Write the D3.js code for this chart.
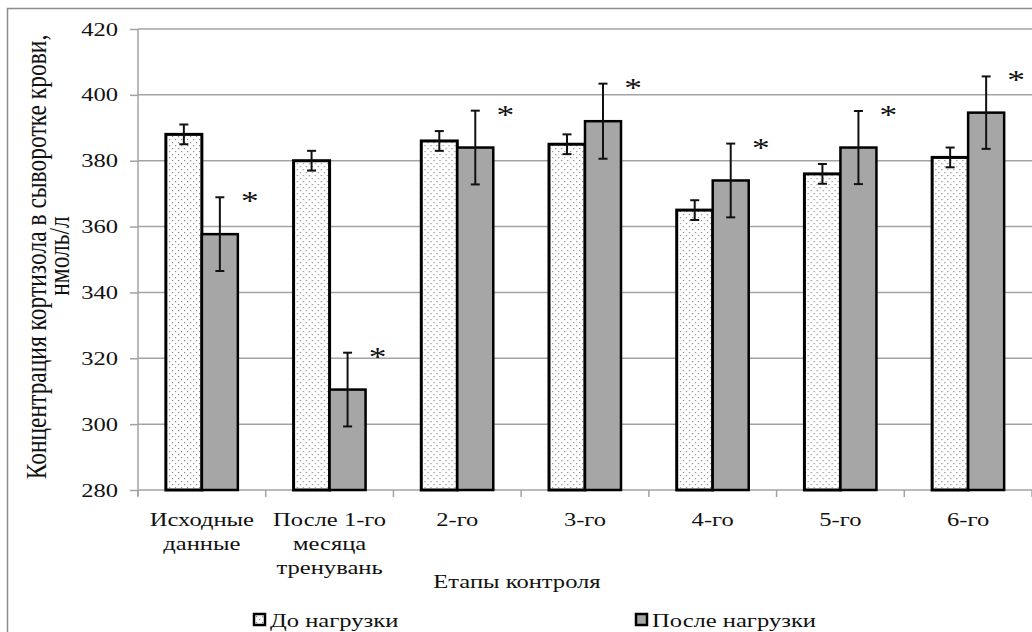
<!DOCTYPE html>
<html>
<head>
<meta charset="utf-8">
<script src="https://cdn.jsdelivr.net/npm/d3@7"></script>
<style>
body { margin: 0; background: #fff; }
svg { display: block; }
</style>
</head>
<body>
<svg id="drawing_region"></svg>
<script>
// stages of control (multi-line tick labels)
const categories = [
  ["Исходные", "данные"],
  ["После 1-го", "месяца", "тренувань"],
  ["2-го"], ["3-го"], ["4-го"], ["5-го"], ["6-го"]
];
const seriesNames = ["До нагрузки", "После нагрузки"];
const beforeLoad = [388, 380, 386, 385, 365, 376, 381];
const beforeErr = [3, 3, 3, 3, 3, 3, 3];
const afterLoad = [357.7, 310.5, 384, 392, 374, 384, 394.6];
const afterErr = [11.2, 11.2, 11.2, 11.4, 11.2, 11.1, 11];
const significant = ["*", "*", "*", "*", "*", "*", "*"];
const yTicks = [280, 300, 320, 340, 360, 380, 400, 420];
const yTitle = ["Концентрация кортизола в сыворотке крови,", "нмоль/л"];
const xTitle = "Етапы контроля";

const W = 1032, H = 632;
const margin = {top: 29, right: 0, bottom: 142, left: 138};
const FONT = "'Liberation Serif', 'Times New Roman', serif";
const SX = 1.26; // text in the picture is stretched horizontally

const svg = d3.select("#drawing_region")
  .attr("width", W)
  .attr("height", H);

const defs = svg.append("defs");
const pat = defs.append("pattern")
  .attr("id", "dots")
  .attr("patternUnits", "userSpaceOnUse")
  .attr("width", 6).attr("height", 6);
pat.append("rect").attr("width", 6).attr("height", 6).attr("fill", "#fff");
pat.append("rect").attr("x", 1).attr("y", 1).attr("width", 1.2).attr("height", 1.2).attr("fill", "#8a8a8a");
pat.append("rect").attr("x", 4).attr("y", 4).attr("width", 1.2).attr("height", 1.2).attr("fill", "#8a8a8a");

// outer chart frame
svg.append("rect")
  .attr("x", 7.5).attr("y", 8.5)
  .attr("width", 1060).attr("height", 660)
  .attr("fill", "none")
  .attr("stroke", "#8c8c8c")
  .attr("stroke-width", 1.5);

const plotBottom = H - margin.bottom;
const xscale = d3.scaleBand()
  .domain(d3.range(categories.length))
  .range([margin.left, W - margin.right])
  .padding(0);
const groupW = 72;
const xsub = d3.scaleBand()
  .domain([0, 1])
  .range([(xscale.bandwidth() - groupW) / 2, (xscale.bandwidth() + groupW) / 2]);
const yscale = d3.scaleLinear()
  .domain([280, 420])
  .range([plotBottom, margin.top]);

function stext(parent, x, y, str, size, anchor) {
  return parent.append("text")
    .attr("transform", `translate(${x},${y}) scale(${SX},1)`)
    .attr("text-anchor", anchor || "middle")
    .attr("font-family", FONT)
    .attr("font-size", size)
    .attr("fill", "#111")
    .text(str);
}

// grid lines
svg.append("g")
  .selectAll("line")
  .data(yTicks.slice(1))
  .join("line")
  .attr("x1", margin.left).attr("x2", W)
  .attr("y1", d => yscale(d)).attr("y2", d => yscale(d))
  .attr("stroke", "#a3a3a3")
  .attr("stroke-width", 1.5);

// y axis
const yaxis = d3.axisLeft(yscale).tickValues(yTicks).tickSize(8).tickFormat("");
const yg = svg.append("g")
  .attr("transform", `translate(${margin.left},0)`)
  .call(yaxis);
yg.selectAll("path, line").attr("stroke", "#a3a3a3").attr("stroke-width", 1.5);
yg.select(".domain").attr("d", `M0,${yscale(280) + 6}V${yscale(420)}`);
yTicks.forEach(t => stext(svg, 118, yscale(t) + 6.5, t, 19.5, "end"));

// x axis (drawn under the bars)
const xaxis = d3.axisBottom(xscale).tickSize(0).tickFormat("");
const xg = svg.append("g")
  .attr("transform", `translate(0,${plotBottom})`)
  .call(xaxis);
xg.select(".domain").attr("d", `M${margin.left},0H${W}`)
  .attr("stroke", "#a3a3a3").attr("stroke-width", 1.5);
xg.selectAll(".tick").remove();
xg.selectAll("line.sep")
  .data(d3.range(categories.length + 1))
  .join("line")
  .attr("class", "sep")
  .attr("x1", i => margin.left + i * xscale.step())
  .attr("x2", i => margin.left + i * xscale.step())
  .attr("y1", 0).attr("y2", 7)
  .attr("stroke", "#a3a3a3").attr("stroke-width", 1.5);

// bars
const data = categories.map((c, i) => ({
  i: i,
  vals: [
    {s: 0, v: beforeLoad[i], e: beforeErr[i]},
    {s: 1, v: afterLoad[i], e: afterErr[i]}
  ]
}));

const groups = svg.append("g")
  .selectAll("g")
  .data(data)
  .join("g")
  .attr("transform", d => `translate(${xscale(d.i)},0)`);

groups.selectAll("rect")
  .data(d => d.vals)
  .join("rect")
  .attr("x", d => xsub(d.s))
  .attr("y", d => yscale(d.v))
  .attr("width", xsub.bandwidth())
  .attr("height", d => yscale(280) - yscale(d.v))
  .attr("fill", d => d.s === 0 ? "url(#dots)" : "#a6a6a6")
  .attr("stroke", "#000")
  .attr("stroke-width", d => d.s === 0 ? 3 : 2.5);

// error bars
const eb = groups.selectAll("g.err")
  .data(d => d.vals)
  .join("g")
  .attr("class", "err")
  .attr("stroke", "#111")
  .attr("stroke-width", 2);
const cx = d => xsub(d.s) + xsub.bandwidth() / 2;
eb.append("line")
  .attr("x1", cx).attr("x2", cx)
  .attr("y1", d => yscale(d.v + d.e)).attr("y2", d => yscale(d.v - d.e));
eb.append("line")
  .attr("x1", d => cx(d) - 4.5).attr("x2", d => cx(d) + 4.5)
  .attr("y1", d => yscale(d.v + d.e)).attr("y2", d => yscale(d.v + d.e));
eb.append("line")
  .attr("x1", d => cx(d) - 4.5).attr("x2", d => cx(d) + 4.5)
  .attr("y1", d => yscale(d.v - d.e)).attr("y2", d => yscale(d.v - d.e));

// significance marks
significant.forEach((m, i) => {
  const x = xscale(i) + xsub(1) + xsub.bandwidth() + 12;
  const y = yscale(afterLoad[i] + afterErr[i]);
  stext(svg, x, y + 13, m, 28);
});

categories.forEach((lines, i) => {
  lines.forEach((t, j) => {
    stext(svg, xscale(i) + xscale.bandwidth() / 2, 526 + j * 24, t, 19.5);
  });
});

// axis titles
stext(svg, 517, 588, xTitle, 19.5);
yTitle.forEach((t, j) => {
  svg.append("text")
    .attr("transform", `translate(${j === 0 ? 46 : 69},${j === 0 ? 257 : 256}) scale(${SX},1) rotate(-90)`)
    .attr("text-anchor", "middle")
    .attr("font-family", FONT)
    .attr("font-size", 23.5)
    .attr("fill", "#111")
    .text(t);
});

// legend
const legendX = [254, 636];
seriesNames.forEach((n, k) => {
  svg.append("rect")
    .attr("x", legendX[k]).attr("y", 614)
    .attr("width", 11).attr("height", 11)
    .attr("fill", k === 0 ? "url(#dots)" : "#a6a6a6")
    .attr("stroke", "#000")
    .attr("stroke-width", 2.5);
  stext(svg, legendX[k] + 16, 627, n, 19.5, "start");
});
</script>
</body>
</html>
